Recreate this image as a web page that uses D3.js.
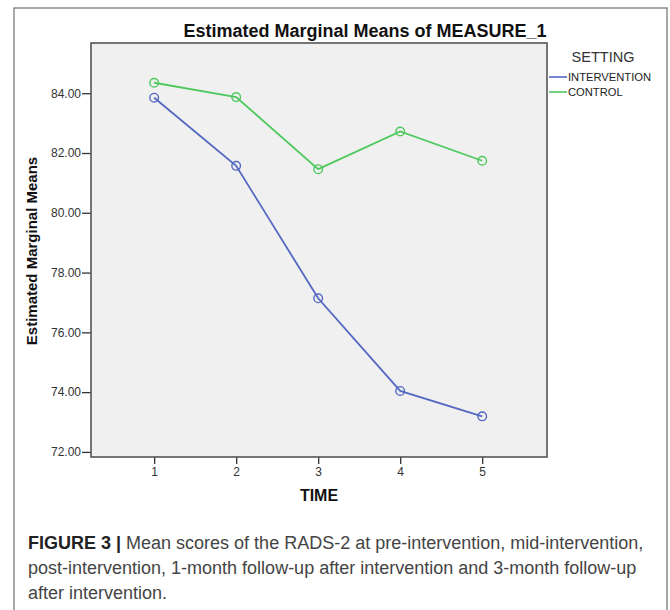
<!DOCTYPE html>
<html>
<head>
<meta charset="utf-8">
<script src="https://cdn.jsdelivr.net/npm/d3@7"></script>
<style>
  body { margin: 0; background: #fff; }
  svg { display: block; }
</style>
</head>
<body>
<svg width="670" height="610"></svg>
<script>
// data
var times = [1, 2, 3, 4, 5];
var intervention = [83.85, 81.57, 77.14, 74.04, 73.19];
var control = [84.35, 83.87, 81.46, 82.72, 81.74];
var yTicks = [72, 74, 76, 78, 80, 82, 84];
var seriesNames = ["INTERVENTION", "CONTROL"];
var colors = ["#5468c2", "#4fc95f"];

var svg = d3.select("svg"),
    font = "Liberation Sans, Arial, sans-serif",
    plot = {left: 91, right: 547, top: 43, bottom: 457};

var x = d3.scaleLinear().domain([0.23, 5.79]).range([plot.left, plot.right]);
var y = d3.scaleLinear().domain([71.83, 85.68]).range([plot.bottom, plot.top]);

// outer frame
svg.append("rect")
  .attr("x", 14).attr("y", 8)
  .attr("width", 653).attr("height", 620)
  .attr("fill", "#fff")
  .attr("stroke", "#7a7a7a")
  .attr("stroke-width", 1.3);

// plot background
svg.append("rect")
  .attr("x", plot.left).attr("y", plot.top)
  .attr("width", plot.right - plot.left).attr("height", plot.bottom - plot.top)
  .attr("fill", "#f0f0f0");

svg.append("text")
  .attr("x", 365).attr("y", 37)
  .attr("text-anchor", "middle")
  .attr("font-family", font)
  .attr("font-size", 18).attr("font-weight", "bold")
  .attr("fill", "#111")
  .text("Estimated Marginal Means of MEASURE_1");

var yAxis = svg.append("g")
  .attr("transform", "translate(" + plot.left + ",0)")
  .call(d3.axisLeft(y).tickValues(yTicks).tickFormat(d3.format(".2f")).tickSize(9).tickSizeOuter(0));

var xAxis = svg.append("g")
  .attr("transform", "translate(0," + plot.bottom + ")")
  .call(d3.axisBottom(x).tickValues(times).tickFormat(d3.format("d")).tickSize(7).tickSizeOuter(0));

[yAxis, xAxis].forEach(function(ax) {
  ax.select(".domain").remove();
  ax.selectAll(".tick line").attr("stroke", "#333").attr("stroke-width", 1.3);
  ax.selectAll(".tick text")
    .attr("font-family", font)
    .attr("font-size", 12)
    .attr("fill", "#333");
});
yAxis.selectAll(".tick text").attr("x", -10);
xAxis.selectAll(".tick text").attr("y", 10);

// plot border
svg.append("rect")
  .attr("x", plot.left).attr("y", plot.top)
  .attr("width", plot.right - plot.left).attr("height", plot.bottom - plot.top)
  .attr("fill", "none")
  .attr("stroke", "#555")
  .attr("stroke-width", 1.6);

var line = d3.line()
  .x(function(d, i) { return x(times[i]); })
  .y(function(d) { return y(d); });

[intervention, control].forEach(function(data, k) {
  svg.append("path")
    .datum(data)
    .attr("fill", "none")
    .attr("stroke", colors[k])
    .attr("stroke-width", 1.8)
    .attr("d", line);

  svg.selectAll(".pt" + k)
    .data(data)
    .enter().append("circle")
    .attr("class", "pt" + k)
    .attr("cx", function(d, i) { return x(times[i]); })
    .attr("cy", function(d) { return y(d); })
    .attr("r", 4.3)
    .attr("fill", "none")
    .attr("stroke", colors[k])
    .attr("stroke-width", 1.4);
});

// axis titles
svg.append("text")
  .attr("transform", "translate(37,251) rotate(-90)")
  .attr("text-anchor", "middle")
  .attr("font-family", font)
  .attr("font-size", 15).attr("font-weight", "bold")
  .attr("fill", "#111")
  .text("Estimated Marginal Means");

svg.append("text")
  .attr("x", 319).attr("y", 501)
  .attr("text-anchor", "middle")
  .attr("font-family", font)
  .attr("font-size", 16).attr("font-weight", "bold")
  .attr("fill", "#111")
  .text("TIME");

// legend
svg.append("text")
  .attr("x", 603).attr("y", 62)
  .attr("text-anchor", "middle")
  .attr("font-family", font)
  .attr("font-size", 14.5)
  .attr("fill", "#333")
  .text("SETTING");

seriesNames.forEach(function(name, k) {
  var ly = 77 + k * 15;
  svg.append("line")
    .attr("x1", 549).attr("x2", 567)
    .attr("y1", ly).attr("y2", ly)
    .attr("stroke", colors[k]).attr("stroke-width", 1.6);
  svg.append("text")
    .attr("x", 568).attr("y", ly + 4)
    .attr("font-family", font)
    .attr("font-size", 11.2)
    .attr("fill", "#222")
    .text(name);
});

// caption
var caption = [
  [["FIGURE 3 | ", true], ["Mean scores of the RADS-2 at pre-intervention, mid-intervention,", false]],
  [["post-intervention, 1-month follow-up after intervention and 3-month follow-up", false]],
  [["after intervention.", false]]
];
caption.forEach(function(parts, i) {
  var t = svg.append("text")
    .attr("x", 28).attr("y", 549 + i * 25)
    .attr("font-family", font)
    .attr("font-size", 18)
    .attr("fill", "#333");
  parts.forEach(function(p) {
    t.append("tspan")
      .attr("font-weight", p[1] ? "bold" : "normal")
      .attr("fill", p[1] ? "#222" : "#444")
      .text(p[0]);
  });
});
</script>
</body>
</html>
